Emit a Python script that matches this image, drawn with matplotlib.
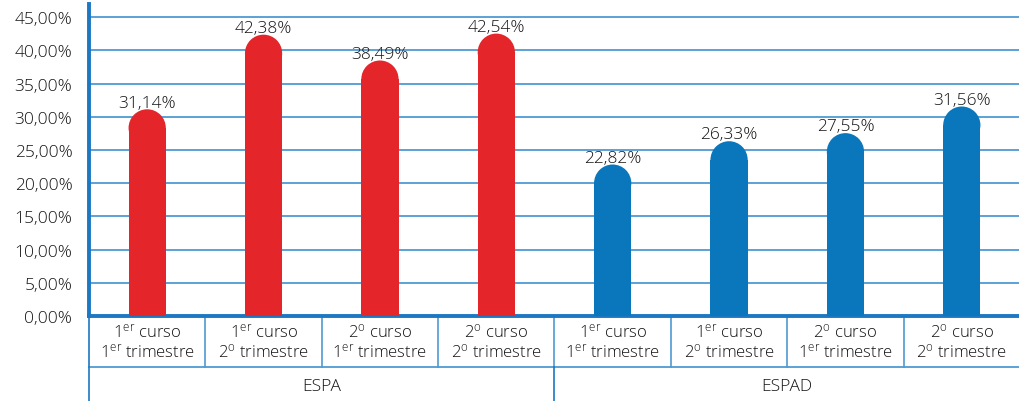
import matplotlib
matplotlib.use("Agg")
import matplotlib.pyplot as plt
from matplotlib.patches import Rectangle, Ellipse

# ==== Data ====
groups = ["ESPA", "ESPAD"]
cursos = [r"1$^{\mathrm{er}}$ curso", r"1$^{\mathrm{er}}$ curso",
          r"2$^{\mathrm{o}}$ curso", r"2$^{\mathrm{o}}$ curso"]
trimestres = [r"1$^{\mathrm{er}}$ trimestre", r"2$^{\mathrm{o}}$ trimestre",
              r"1$^{\mathrm{er}}$ trimestre", r"2$^{\mathrm{o}}$ trimestre"]
espa = [31.14, 42.38, 38.49, 42.54]
espad = [22.82, 26.33, 27.55, 31.56]

values = espa + espad
labels = [c + "\n" + t for c, t in zip(cursos * 2, trimestres * 2)]

# ==== Style ====
plt.rcParams['font.family'] = ['Open Sans', 'DejaVu Sans']
plt.rcParams['font.weight'] = 'light'
plt.rcParams['mathtext.fontset'] = 'custom'
plt.rcParams['mathtext.rm'] = 'Open Sans:light'
plt.rcParams['mathtext.it'] = 'Open Sans:light'
TEXT = '#141414'
RED = '#E4252A'
BLUE = '#0A77BD'
GRID = '#4F9AD3'
AXIS = '#1C78C2'

fig = plt.figure(figsize=(10.2, 4.02), dpi=100)
ax = fig.add_axes([89 / 1020, 85 / 402, 931 / 1020, 312 / 402])

n = len(values)
ax.set_xlim(-0.5, n - 0.5)
ax.set_ylim(0, 47)

yticks = [i * 5 for i in range(10)]
ax.set_yticks(yticks)
ax.set_yticklabels([f"{t:.2f}%".replace('.', ',') for t in yticks],
                   fontsize=12.5, color=TEXT)
ax.tick_params(axis='y', length=0, pad=12)
ax.set_xticks([])
for t in yticks[1:]:
    ax.axhline(t, color=GRID, lw=1.3, zorder=1)

for s in ['top', 'right']:
    ax.spines[s].set_visible(False)
ax.spines['left'].set_color(AXIS)
ax.spines['left'].set_linewidth(2.8)
ax.spines['bottom'].set_color(AXIS)
ax.spines['bottom'].set_linewidth(2.8)

# rounded-top bars: radius measured in pixels, converted to data units
bw = 0.32
fig.canvas.draw()
px_per_x = ax.transData.transform((1, 0))[0] - ax.transData.transform((0, 0))[0]
px_per_y = ax.transData.transform((0, 1))[1] - ax.transData.transform((0, 0))[1]
r_px = bw * px_per_x / 2
r_y = r_px / px_per_y

for i, v in enumerate(values):
    col = RED if i < 4 else BLUE
    ax.add_patch(Rectangle((i - bw / 2, 0), bw, v - r_y, facecolor=col,
                           edgecolor='none', zorder=3))
    ax.add_patch(Ellipse((i, v - r_y), bw, 2 * r_y, facecolor=col,
                         edgecolor='none', zorder=3))
    ax.annotate(f"{v:.2f}%".replace('.', ','), (i, v), xytext=(0, 2),
                textcoords='offset points', ha='center', va='baseline',
                fontsize=12.5, color=TEXT)

# category table under the axis
xt = ax.get_xaxis_transform()
row1 = -51 / 312
row2 = -85 / 312
ax.plot([-0.5, n - 0.5], [row1, row1], color=GRID, lw=1.3, transform=xt, clip_on=False)
ax.plot([-0.5, -0.5], [0, row2], color=AXIS, lw=1.2, transform=xt, clip_on=False)
for b in range(1, n):
    ax.plot([b - 0.5, b - 0.5], [0, row1], color=GRID, lw=1.2, transform=xt, clip_on=False)
ax.plot([3.5, 3.5], [row1, row2], color=AXIS, lw=1.2, transform=xt, clip_on=False)

for i, lab in enumerate(labels):
    ax.text(i, row1 / 2, lab, transform=xt, ha='center', va='center',
            fontsize=12, color=TEXT, linespacing=1.1)
for g, name in enumerate(groups):
    ax.text(1.5 + 4 * g, (row1 + row2) / 2 - 0.005, name, transform=xt,
            ha='center', va='center', fontsize=12.5, color=TEXT)

fig.savefig("out.png", dpi=100)
